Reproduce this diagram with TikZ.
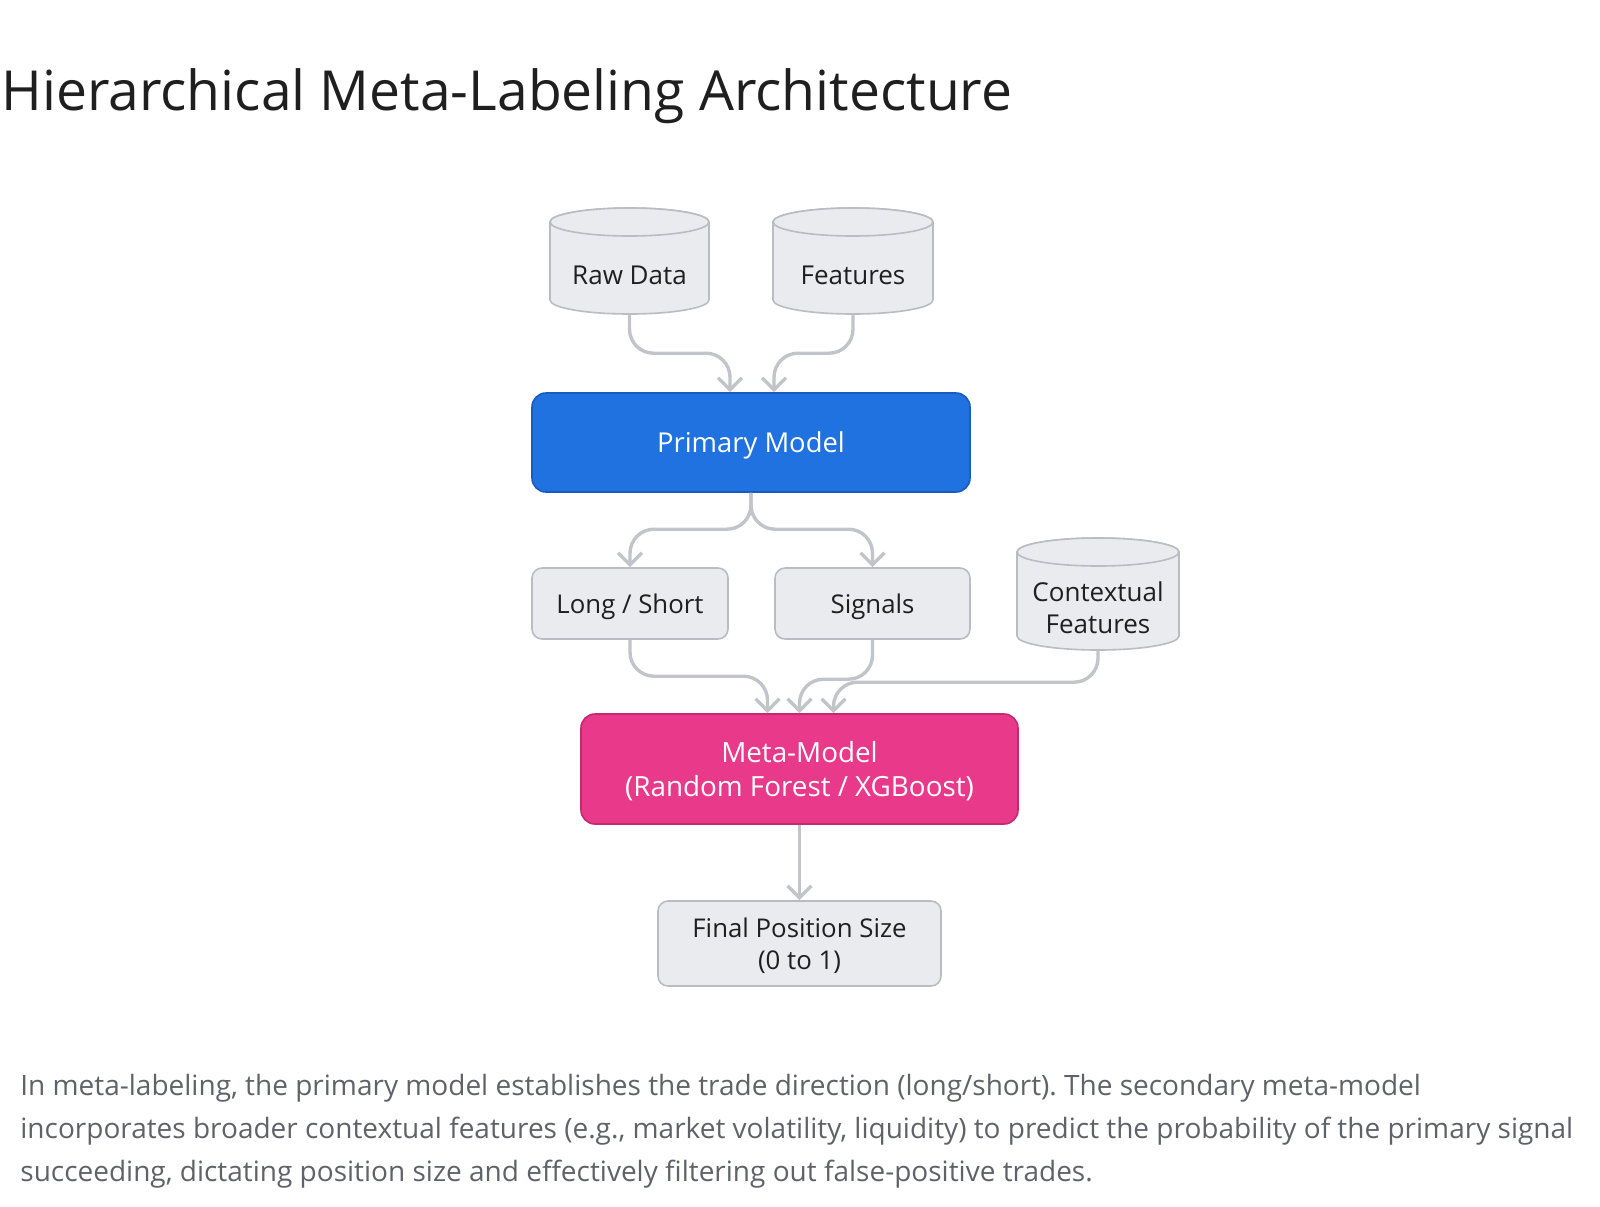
\documentclass[tikz,border=0pt]{standalone}
\usepackage{fontspec}
\setmainfont{Open Sans}
\frenchspacing
\usetikzlibrary{arrows.meta}
\definecolor{boxfill}{HTML}{E9EBEE}
\definecolor{boxline}{HTML}{B9BDC2}
\definecolor{textc}{HTML}{1F1F1F}
\definecolor{bluefill}{HTML}{1F72DF}
\definecolor{blueline}{HTML}{1A5CBD}
\definecolor{pinkfill}{HTML}{E9398A}
\definecolor{pinkline}{HTML}{C52A70}
\definecolor{connc}{HTML}{C1C5CA}
\definecolor{descc}{HTML}{5F6368}
\tikzset{
  graybox/.style={draw=boxline, fill=boxfill, rounded corners=5pt, line width=0.8pt,
    text=textc, font=\fontsize{12.9}{16}\selectfont, align=center, inner sep=0pt},
  bluebox/.style={draw=blueline, fill=bluefill, rounded corners=7pt, line width=0.8pt,
    text=white, font=\fontsize{13.7}{16.5}\selectfont, align=center, inner sep=0pt},
  pinkbox/.style={draw=pinkline, fill=pinkfill, rounded corners=7pt, line width=0.8pt,
    text=white, font=\fontsize{13.9}{17}\selectfont, align=center, inner sep=0pt},
  dbshape/.style={draw=boxline, fill=boxfill, line width=0.8pt},
  dbtext/.style={text=textc, font=\fontsize{13}{16}\selectfont, align=center, inner sep=0pt},
  oneline/.style={text height=9.6pt, text depth=0pt},
  conn/.style={draw=connc, line width=1.7pt, rounded corners=12pt,
    -{Straight Barb[length=6pt,width=12pt]}},
  desc/.style={anchor=base west, inner sep=0pt, text=descc, font=\fontsize{14}{21}\selectfont},
}
% cylinder: #1 name, #2 cx, #3 top y, #4 bottom y, #5 width, #6 ry, #7 text
\newcommand\dbnode[7]{%
  \path[dbshape] ({#2-#5/2},{-#3-#6}) -- ({#2-#5/2},{-#4+#6})
    arc[start angle=180,end angle=360,x radius={#5/2},y radius=#6]
    -- ({#2+#5/2},{-#3-#6})
    arc[start angle=0,end angle=180,x radius={#5/2},y radius=#6] -- cycle;
  \draw[dbshape] (#2,{-#3-#6}) ellipse[x radius={#5/2}, y radius=#6];
  \node[dbtext, minimum width={#5*0.5pt}, minimum height={(#4-#3-2*#6)*0.5pt}]
    (#1) at (#2,{-(#3+2*#6+#4)/2}) {#7};
}
\begin{document}
\begin{tikzpicture}[x=0.5pt,y=0.5pt]
\useasboundingbox[fill=white] (0,0) rectangle (1600,-1206);

\node[anchor=base west, inner sep=0pt, text=textc, font=\fontsize{27.6}{32}\selectfont]
  (title) at (1,-110) {Hierarchical Meta-Labeling Architecture};

\dbnode{raw}{629.5}{208}{314}{159}{14}{Raw Data}
\dbnode{feat}{853}{208}{314}{160}{14}{Features}
\dbnode{ctx}{1098}{538}{650}{162}{14}{Contextual\\Features}

\node[bluebox, oneline, minimum width=219pt, minimum height=49.5pt] (pm) at (751,-442.5) {Primary Model};
\node[graybox, oneline, minimum width=98pt, minimum height=35.5pt] (ls) at (630,-603.5) {Long / Short};
\node[graybox, oneline, minimum width=97.5pt, minimum height=35.5pt] (sig) at (872.5,-603.5) {Signals};
\node[pinkbox, text depth=0pt, minimum width=218.5pt, minimum height=55pt] (meta) at (799.5,-769) {Meta-Model\\(Random Forest / XGBoost)};
\node[graybox, text depth=0pt, minimum width=141.5pt, minimum height=42.5pt] (fin) at (799.5,-943.5) {Final Position Size\\(0 to 1)};

\draw[conn] (raw.south) |- ([xshift=-10.5pt,yshift=19.5pt]pm.north) -- ([xshift=-10.5pt]pm.north);
\draw[conn] (feat.south) |- ([xshift=11.5pt,yshift=19.5pt]pm.north) -- ([xshift=11.5pt]pm.north);
\draw[conn] (pm.south) |- ([yshift=19pt]ls.north) -- (ls.north);
\draw[conn] (pm.south) |- ([yshift=19pt]sig.north) -- (sig.north);
\draw[conn] (ls.south) |- ([xshift=-16pt,yshift=18.5pt]meta.north) -- ([xshift=-16pt]meta.north);
\draw[conn] (sig.south) |- ([yshift=17pt]meta.north) -- (meta.north);
\draw[conn] (ctx.south) |- ([xshift=17pt,yshift=15.5pt]meta.north) -- ([xshift=17pt]meta.north);
\draw[conn] (meta.south) -- (fin.north);

\node[desc] (d1) at (20,-1095) {In meta-labeling, the primary model establishes the trade direction (long/short). The secondary meta-model};
\node[desc] (d2) at (20,-1138) {incorporates broader contextual features (e.g., market volatility, liquidity) to predict the probability of the primary signal};
\node[desc] (d3) at (20,-1181) {succeeding, dictating position size and effectively filtering out false-positive trades.};
\end{tikzpicture}
\end{document}
